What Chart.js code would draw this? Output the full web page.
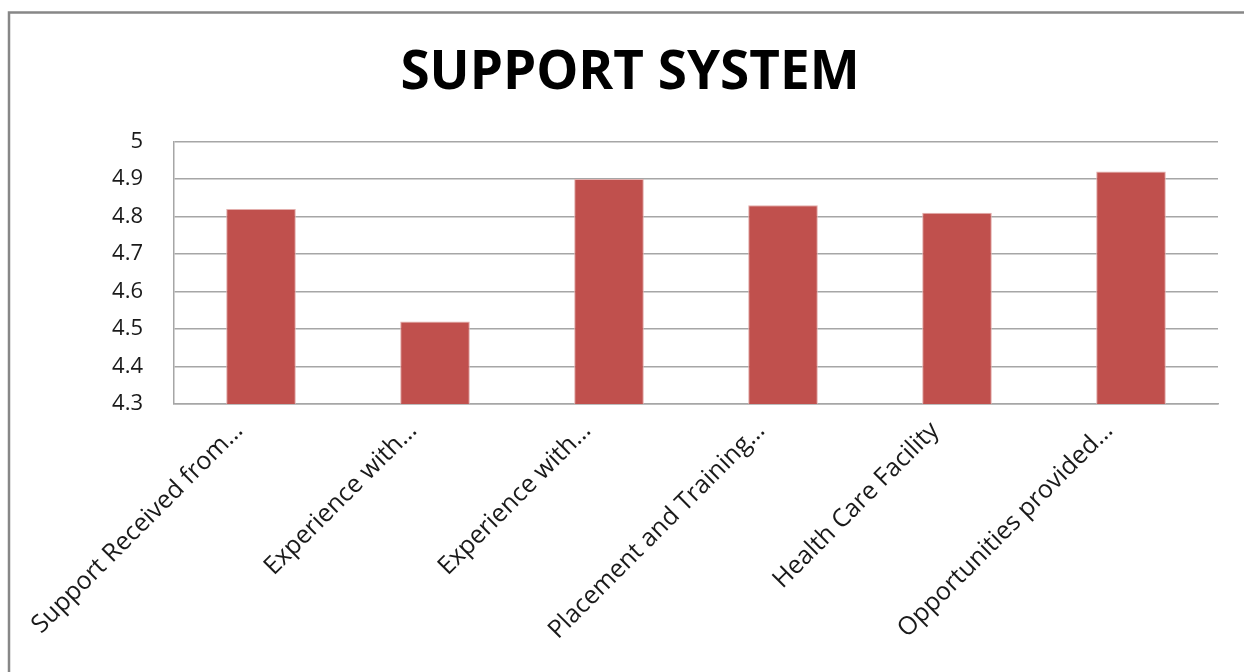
<!DOCTYPE html>
<html>
<head>
<meta charset="utf-8">
<script src="https://cdn.jsdelivr.net/npm/chart.js@4.4.1/dist/chart.umd.min.js"></script>
<style>
  html, body { margin: 0; padding: 0; background: #fff; }
  #wrap { position: absolute; left: 0; top: 0; width: 1244px; height: 672px; }
</style>
</head>
<body>
<div id="wrap"><canvas id="c" width="1244" height="672"></canvas></div>
<script>
const titleText = "SUPPORT SYSTEM";
const categories = [
  "Support Received from…",
  "Experience with…",
  "Experience with…",
  "Placement and Training…",
  "Health Care Facility",
  "Opportunities provided…"
];
const values = [4.82, 4.52, 4.90, 4.83, 4.81, 4.92];
const yMin = 4.3, yMax = 5, yStep = 0.1;

const frame = {
  id: 'frame',
  beforeDraw(chart) {
    const ctx = chart.ctx;
    ctx.save();
    ctx.fillStyle = '#fff';
    ctx.fillRect(0, 0, chart.width, chart.height);
    ctx.strokeStyle = '#878787';
    ctx.lineWidth = 2.5;
    ctx.beginPath();
    ctx.moveTo(9, 700);
    ctx.lineTo(9, 12.5);
    ctx.lineTo(1244, 12.5);
    ctx.stroke();
    ctx.restore();
  }
};

new Chart(document.getElementById('c'), {
  type: 'bar',
  data: {
    labels: categories,
    datasets: [{
      data: values,
      backgroundColor: '#c0504d',
      borderColor: '#e3aeac',
      borderWidth: 1,
      barPercentage: 0.4,
      categoryPercentage: 1.0
    }]
  },
  options: {
    responsive: false,
    animation: false,
    devicePixelRatio: 1,
    layout: { padding: { left: 42, right: 26, top: 0, bottom: 0 } },
    plugins: {
      legend: { display: false },
      tooltip: { enabled: false },
      title: {
        display: true,
        text: titleText,
        color: '#000',
        font: { family: 'Open Sans', size: 53, weight: 'bold', lineHeight: 1.2 },
        padding: { top: 42, bottom: 36 }
      }
    },
    scales: {
      y: {
        min: yMin,
        max: yMax,
        ticks: {
          stepSize: yStep,
          padding: 31,
          color: '#1a1a1a',
          font: { family: 'Open Sans', size: 22 },
          callback: v => Number(v.toFixed(1)).toString()
        },
        grid: { color: '#a6a6a6', lineWidth: 1.5, drawTicks: false },
        border: { color: '#a6a6a6', width: 1.5 },
        afterFit(s) { s.width = 132; }
      },
      x: {
        ticks: {
          minRotation: 45,
          maxRotation: 45,
          autoSkip: false,
          padding: 12,
          labelOffset: -22,
          color: '#1a1a1a',
          font: { family: 'Open Sans', size: 25 }
        },
        grid: { display: false, drawTicks: false },
        border: { color: '#a6a6a6', width: 1.5 },
        afterFit(s) { s.height = 268; }
      }
    }
  },
  plugins: [frame]
});
</script>
</body>
</html>
